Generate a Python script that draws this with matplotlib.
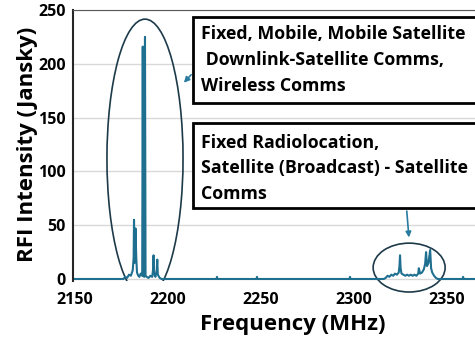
import matplotlib
matplotlib.use("Agg")
import matplotlib.pyplot as plt
from matplotlib.patches import Ellipse, Rectangle

plt.rcParams['font.family'] = ['Open Sans', 'DejaVu Sans']
plt.rcParams['font.weight'] = 'bold'

# measured spectrum (MHz, Jansky)
freq = [2140, 2176.0, 2177.0, 2178.0, 2179.0, 2180.0, 2181.0, 2181.5, 2181.7, 2182.0,
        2182.5, 2182.9, 2183.3, 2184.0, 2184.6, 2185.3, 2185.9, 2186.1, 2186.4, 2186.7,
        2187.2, 2187.6, 2187.9, 2188.5, 2189.5, 2190.5, 2191.5, 2192.0, 2192.2, 2192.5,
        2193.2, 2193.9, 2194.2, 2194.5, 2195.5, 2196.5,
        2226.0, 2226.3, 2226.6, 2247.5, 2247.8, 2248.1, 2297.5, 2297.8, 2298.1,
        2316, 2317, 2318, 2319, 2320, 2321, 2322, 2323, 2324, 2324.4, 2324.7, 2325.0,
        2325.5, 2326.5, 2327.5, 2328.5, 2329.5, 2330.5, 2331.5, 2332.5, 2333.5, 2334.5,
        2334.8, 2335.5, 2336.5, 2337.5, 2338.2, 2338.7, 2339.2, 2340.0, 2340.9, 2341.4,
        2342.0, 2343.0, 2344.0, 2345, 2358.3, 2358.6, 2358.9, 2370]
rfi = [0, 0, 2, 1, 4, 3, 8, 20, 55, 15,
       47, 20, 6, 3, 2, 5, 4, 3, 216, 3,
       2, 225, 3, 2, 1, 3, 2, 10, 22, 5,
       2, 8, 18, 4, 1, 0,
       0, 2, 0, 0, 2, 0, 0, 2, 0,
       0, 1, 3, 2, 4, 3, 5, 4, 6, 12, 22, 10,
       5, 4, 3, 4, 3, 4, 3, 4, 3, 5,
       10, 5, 6, 9, 14, 25, 12, 15, 27, 10,
       6, 3, 1, 0, 0, 2, 0, 0]

xticks = [2150, 2200, 2250, 2300, 2350]
yticks = [0, 50, 100, 150, 200, 250]

note_top = "Fixed, Mobile, Mobile Satellite\n Downlink-Satellite Comms,\nWireless Comms"
note_low = "Fixed Radiolocation,\nSatellite (Broadcast) - Satellite\nComms"

fig = plt.figure(figsize=(4.75, 3.41), dpi=100)
ax = fig.add_axes([73 / 475, 1 - 280.6 / 341, 402 / 475, 270.6 / 341])

ax.plot(freq, rfi, color='#1f6f91', lw=1.5)
ax.set_xlim(2148.9, 2365)
ax.set_ylim(-1.5, 250)
ax.set_xticks(xticks)
ax.set_yticks(yticks)
ax.tick_params(length=0, labelsize=11.5)
ax.tick_params(axis='x', pad=8)
ax.tick_params(axis='y', pad=5)
for lab in ax.get_xticklabels() + ax.get_yticklabels():
    lab.set_fontweight('bold')
ax.grid(axis='y', color='#d9d9d9', lw=1)
ax.set_axisbelow(True)

ax.spines['right'].set_visible(False)
ax.spines['bottom'].set_visible(False)
ax.spines['top'].set_color('#595959')
ax.spines['left'].set_color('#262626')
ax.spines['left'].set_linewidth(1.5)

ax.set_xlabel('Frequency (MHz)', fontsize=16, fontweight='bold', va='center')
ax.xaxis.set_label_coords(0.547, -0.164)
ax.set_ylabel('RFI Intensity (Jansky)', fontsize=16, fontweight='bold', va='center')
ax.yaxis.set_label_coords(-0.112, 0.505)

# circled bands
ax.add_patch(Ellipse((2187.6, 112), 40.9, 259, fill=False, ec='#1d3a4a', lw=1.2))
ax.add_patch(Ellipse((2329.6, 10.6), 38.7, 45.4, fill=False, ec='#1d3a4a', lw=1.2,
                     clip_on=False))

# service boxes
for y0, y1, txt, ty in [(17, 103, note_top, 60), (123, 208, note_low, 168.5)]:
    fig.patches.append(Rectangle((193 / 475, 1 - y1 / 341), 300 / 475, (y1 - y0) / 341,
                                 transform=fig.transFigure, fc='white', ec='black', lw=2,
                                 zorder=5))
    fig.text(201 / 475, 1 - ty / 341, txt, fontsize=12.8, fontweight='bold',
             va='center', ha='left', linespacing=1.55, zorder=6)

ax.annotate('', xy=(2207.5, 180.5), xytext=(2213.4, 191.7),
            arrowprops=dict(arrowstyle='-|>', color='#2a7ba0', lw=1.2, mutation_scale=8))
ax.annotate('', xy=(2329.6, 36), xytext=(2328.2, 65.7), annotation_clip=False,
            arrowprops=dict(arrowstyle='-|>', color='#2a7ba0', lw=1.2, mutation_scale=8))

fig.savefig('out.png', dpi=100)
